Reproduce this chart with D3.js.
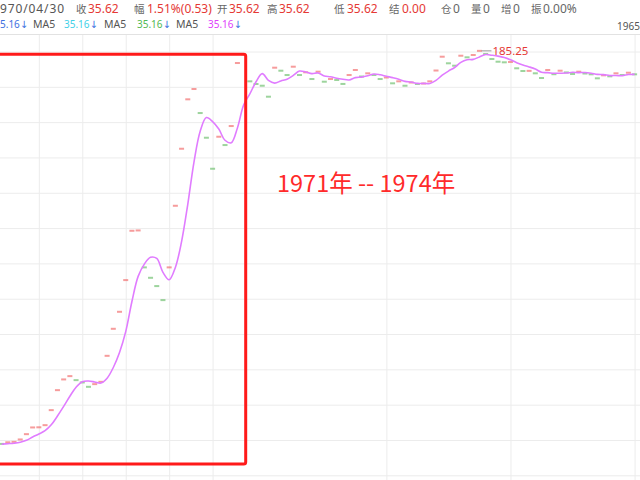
<!DOCTYPE html>
<html><head><meta charset="utf-8">
<script src="https://cdn.jsdelivr.net/npm/d3@7"></script>
<style>html,body{margin:0;padding:0;background:#fff;overflow:hidden}</style>
</head><body><svg id="c" width="640" height="480"></svg>
<script>
// ---- data ----
const preCloses = [34.70, 34.80, 34.90, 35.05];   // bars left of the visible window (for MA5)
const closes = [35.00, 35.62, 35.78, 36.70, 38.73, 41.29, 41.35, 42.17, 47.91, 55.55,
 59.65, 60.91, 59.38, 58.50, 56.82, 57.85, 58.73, 68.67, 79.00, 85.50,
 97.62, 116.47, 116.60, 102.48, 98.50, 95.33, 89.97, 102.48, 126.03, 147.83,
 166.72, 170.66, 161.48, 152.04, 140.18, 152.42, 149.24, 156.51, 180.60, 183.93,
 173.60, 172.57, 171.92, 167.72, 178.81, 177.66, 176.01, 179.19, 176.01, 177.05,
 174.48, 177.28, 173.45, 174.48, 174.10, 172.60, 176.01, 177.93, 175.44, 176.66,
 176.01, 174.48, 175.06, 172.84, 173.60, 171.92, 173.15, 172.57, 172.76, 173.60,
 177.73, 183.01, 180.49, 179.57, 183.39, 182.78, 183.66, 185.25, 184.04, 182.13,
 181.10, 180.87, 181.00, 178.58, 177.54, 177.60, 176.66, 174.87, 177.93, 176.32,
 177.66, 177.00, 176.40, 177.28, 176.59, 176.28, 174.75, 175.90, 175.51, 176.66,
 176.01, 176.89, 176.28];
const xGridIndex = [6, 13, 20, 27, 34, 62, 82, 102];
const yGridValues = [185, 171.5, 158, 144.5, 131, 117.5, 104, 90.5, 77, 63.5, 50, 36.5, 23];
const infoLabels = ["收", "幅", "开", "高", "低", "结", "仓", "量", "增", "振"];
const infoValues = ["35.62", "1.51%(0.53)", "35.62", "35.62", "35.62", "0.00", "0", "0", "0", "0.00%"];
const infoDate = "970/04/30";
const maLabels = ["", "MA5", "MA5", "MA5"];
const maValues = ["5.16", "35.16", "35.16", "35.16"];
const topDateLabel = "1965";
const rangeNote = "1971年 -- 1974年";
const maxLabel = "185.25";

// ---- scales ----
const svg = d3.select("#c");
const W = 640, H = 480;
const x = d3.scaleLinear().domain([0, 102]).range([1.6, 634.6]);
const y = d3.scaleLinear().domain([23, 185]).range([475.3, 51.5]);
const cjk = "'Noto Sans CJK SC','Noto Sans',sans-serif";
const latin = "'Noto Sans','DejaVu Sans',sans-serif";

// ---- grid ----
const gy = svg.append("g").attr("class", "ygrid")
  .call(d3.axisRight(y).tickValues(yGridValues).tickSize(W).tickFormat(""));
gy.select(".domain").remove();
gy.selectAll("line").attr("stroke", "#ececec");
const gx = svg.append("g").attr("class", "xgrid").attr("transform", "translate(0,34.5)")
  .call(d3.axisBottom(x).tickValues(xGridIndex).tickSize(H - 34.5).tickFormat(""));
gx.select(".domain").remove();
gx.selectAll("line").attr("stroke", "#ececec");
svg.append("line").attr("x1", 0).attr("x2", W).attr("y1", 34.5).attr("y2", 34.5)
  .attr("stroke", "#e2e2e2");

// ---- bars (flat dashes) ----
const all = preCloses.concat(closes);
const np = preCloses.length;
const bars = closes.map((c, i) => {
  const prev = all[np + i - 1];
  return {i, c, dir: c > prev ? 1 : (c < prev ? -1 : 0)};
});
const colorOf = d => d.dir > 0 ? "#f05a5a" : (d.dir < 0 ? "#5cb85c" : "#888");
svg.append("g").selectAll("rect").data(bars).join("rect")
  .attr("x", d => x(d.i) - 2.5).attr("width", 5)
  .attr("y", d => y(d.c) - 1).attr("height", 2)
  .attr("fill", colorOf).attr("opacity", 0.6);

// ---- MA5 ----
const ma = closes.map((c, i) => ({i, v: d3.mean(all.slice(np + i - 4, np + i + 1))}));
svg.append("path").datum(ma)
  .attr("d", d3.line().x(d => x(d.i)).y(d => y(d.v)).curve(d3.curveCatmullRom.alpha(0.5)))
  .attr("fill", "none").attr("stroke", "#e07cff").attr("stroke-width", 1.6);

// ---- max label ----
const maxIdx = d3.maxIndex(closes);
svg.append("line")
  .attr("x1", x(maxIdx) + 2).attr("x2", x(maxIdx) + 12)
  .attr("y1", y(closes[maxIdx])).attr("y2", y(closes[maxIdx]))
  .attr("stroke", "#999").attr("stroke-width", 1);
svg.append("text").attr("x", x(maxIdx) + 13).attr("y", y(closes[maxIdx]) + 4)
  .attr("font-family", latin).attr("font-size", 11.5).attr("fill", "#e53935").text(maxLabel);

// ---- highlight box & note ----
svg.append("rect").attr("x", -10).attr("y", 54.3).attr("width", 255.7).attr("height", 409.7)
  .attr("rx", 2).attr("fill", "none").attr("stroke", "#ff1a1a").attr("stroke-width", 3);
svg.append("text").attr("x", 277).attr("y", 191.5)
  .attr("font-family", cjk).attr("font-size", 23.5).attr("fill", "#ff2a2a").text(rangeNote);

// ---- header ----
const hdr = svg.append("g");
hdr.append("text").attr("x", 0).attr("y", 13).attr("font-family", latin)
  .attr("font-size", 12).attr("fill", "#555").attr("textLength", 64).text(infoDate);
const lblX = [76, 134, 217, 267, 334, 389, 441, 471, 501, 531];
const valX = [88, 147, 229, 279, 347, 402, 453, 483, 513, 543];
const valColor = ["#e53935", "#e53935", "#e53935", "#e53935", "#e53935", "#e53935", "#666", "#666", "#666", "#666"];
infoLabels.forEach((l, k) => {
  hdr.append("text").attr("x", lblX[k]).attr("y", 12.5).attr("font-family", cjk)
    .attr("font-size", 10.5).attr("fill", "#666").text(l);
  hdr.append("text").attr("x", valX[k]).attr("y", 13).attr("font-family", latin)
    .attr("font-size", 12).attr("fill", valColor[k]).text(infoValues[k]);
});
const maColors = ["#3d6fe0", "#3fd0e8", "#52b852", "#e040fb"];
const maLblX = [0, 33, 104, 176];
const maValX = [0, 64, 137, 208];
maLabels.forEach((l, k) => {
  if (l) hdr.append("text").attr("x", maLblX[k]).attr("y", 27.5).attr("font-family", latin)
    .attr("font-size", 10.5).attr("fill", "#555").text(l);
  const t = hdr.append("text").attr("y", 27.5).attr("font-size", 10).attr("font-family", latin)
    .attr("x", maValX[k]);
  t.append("tspan").attr("fill", maColors[k]).text(maValues[k]);
  t.append("tspan").attr("fill", "#3d6fe0").text("↓");
});
hdr.append("text").attr("x", 617).attr("y", 30).attr("font-family", latin)
  .attr("font-size", 10).attr("fill", "#555").text(topDateLabel);
</script></body></html>
